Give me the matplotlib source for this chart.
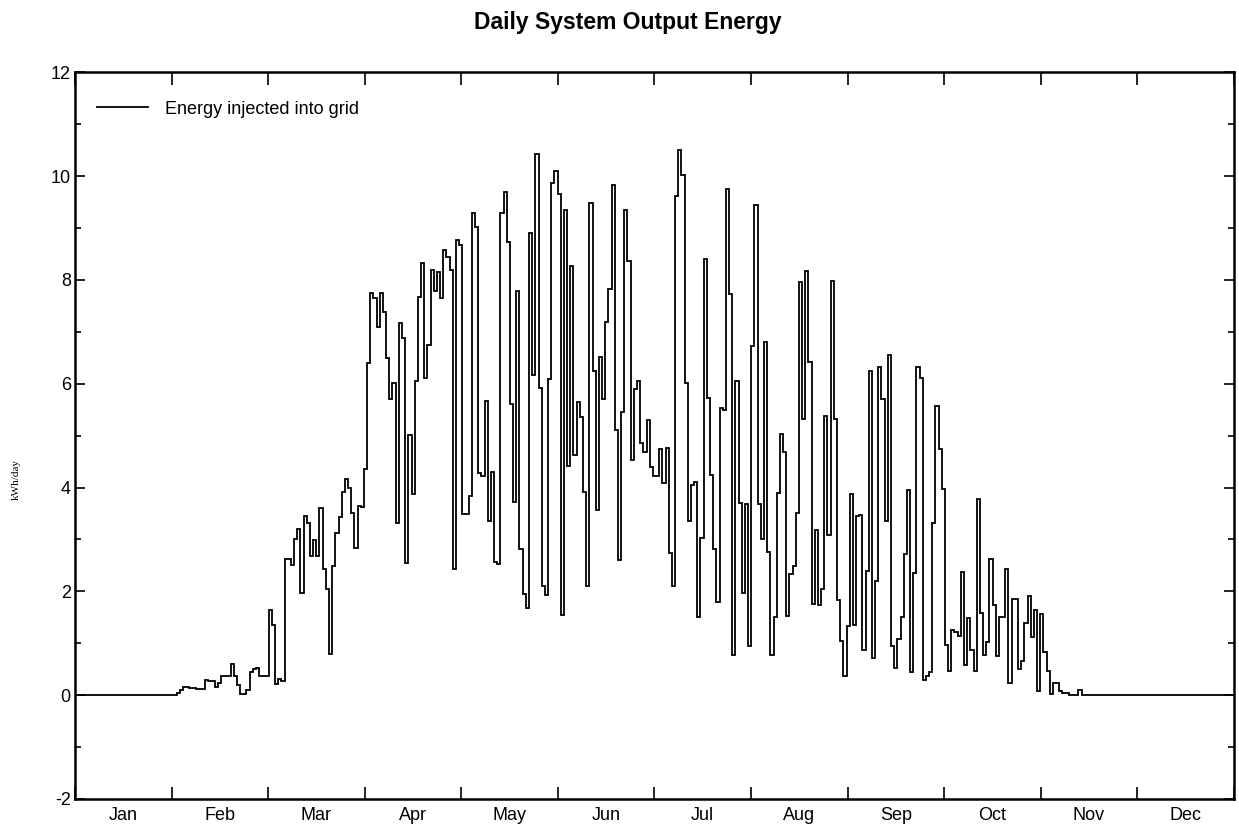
import matplotlib
matplotlib.use('Agg')
import matplotlib.pyplot as plt
from matplotlib.ticker import FixedLocator, FixedFormatter, NullFormatter, MultipleLocator
import numpy as np

plt.rcParams['font.family'] = ['Liberation Sans', 'DejaVu Sans']
plt.rcParams['axes.unicode_minus'] = False

# daily energy injected into grid, kWh/day
jan = [0, 0, 0, 0, 0, 0, 0, 0, 0, 0, 0, 0, 0, 0, 0, 0, 0, 0, 0, 0,
       0, 0, 0, 0, 0, 0, 0, 0, 0, 0, 0]
feb = [0, 0.05, 0.10, 0.16, 0.16, 0.14, 0.14, 0.12, 0.12, 0.11, 0.29, 0.27, 0.27, 0.15,
       0.23, 0.36, 0.36, 0.36, 0.60, 0.36, 0.20, 0.02, 0.02, 0.10, 0.45, 0.50, 0.53, 0.37]
mar = [0.37, 0.37, 1.65, 1.35, 0.22, 0.32, 0.28, 2.62, 2.62, 2.50, 3.00, 3.20, 1.96, 3.46,
       3.32, 2.68, 2.98, 2.68, 3.60, 2.44, 2.04, 0.80, 2.48, 3.13, 3.44, 3.91, 4.17, 4.00,
       3.51, 2.84, 3.64]
apr = [3.63, 4.35, 6.39, 7.75, 7.65, 7.10, 7.75, 7.38, 6.50, 5.71, 6.02, 3.32, 7.17, 6.88,
       2.54, 5.02, 3.87, 6.05, 7.68, 8.33, 6.11, 6.75, 8.20, 7.79, 8.15, 7.65, 8.57, 8.45,
       8.20, 2.43]
may = [8.77, 8.67, 3.49, 3.49, 3.83, 9.28, 9.02, 4.28, 4.22, 5.67, 3.36, 4.30, 2.57, 2.53,
       9.28, 9.69, 8.74, 5.60, 3.73, 7.79, 2.81, 1.95, 1.67, 8.91, 6.16, 10.43, 5.91, 2.11,
       1.93, 6.10, 9.87]
jun = [10.09, 9.66, 1.55, 9.35, 4.41, 8.26, 4.62, 5.64, 5.36, 3.92, 2.10, 9.48, 6.25, 3.57,
       6.52, 5.70, 7.18, 7.82, 9.83, 5.10, 2.60, 5.45, 9.35, 8.36, 4.54, 5.89, 6.05, 4.85,
       4.68, 5.30]
jul = [4.39, 4.22, 4.22, 4.75, 4.08, 4.77, 2.74, 2.10, 9.62, 10.50, 10.03, 6.02, 3.36, 4.04,
       4.10, 1.51, 3.02, 8.40, 5.72, 4.25, 2.81, 1.79, 5.53, 5.50, 9.76, 7.72, 0.77, 6.05,
       3.71, 1.96, 3.69]
aug = [0.94, 6.73, 9.45, 3.69, 3.01, 6.80, 2.75, 0.77, 1.51, 3.89, 5.03, 4.68, 1.53, 2.33,
       2.48, 3.50, 7.96, 5.32, 8.17, 6.42, 1.75, 3.19, 1.74, 2.04, 5.38, 3.08, 7.97, 5.32,
       1.83, 1.05, 0.36]
sep = [1.33, 3.87, 1.35, 3.46, 3.48, 0.87, 2.40, 6.25, 0.72, 2.20, 6.32, 5.71, 3.35, 6.56,
       0.94, 0.53, 1.08, 1.51, 2.71, 3.95, 0.45, 2.35, 6.32, 6.11, 0.30, 0.36, 0.44, 3.32,
       5.57, 4.75]
oct_ = [3.98, 0.96, 0.47, 1.25, 1.22, 1.14, 2.38, 0.58, 1.49, 0.87, 0.47, 3.77, 1.59, 0.77,
        1.03, 2.62, 1.73, 0.75, 1.51, 1.51, 2.44, 0.23, 1.86, 1.86, 0.50, 0.66, 1.39, 1.92,
        1.13, 1.64, 0.08]
nov = [1.56, 0.83, 0.46, 0.02, 0.23, 0.23, 0.08, 0.05, 0.05, 0.01, 0.01, 0.01, 0.10, 0,
       0, 0, 0, 0, 0, 0, 0, 0, 0, 0, 0, 0, 0, 0, 0, 0]
dec = [0, 0, 0, 0, 0, 0, 0, 0, 0, 0, 0, 0, 0, 0, 0, 0, 0, 0, 0, 0,
       0, 0, 0, 0, 0, 0, 0, 0, 0, 0, 0]

month_labels = ['Jan', 'Feb', 'Mar', 'Apr', 'May', 'Jun',
                'Jul', 'Aug', 'Sep', 'Oct', 'Nov', 'Dec']

energy = np.array(jan + feb + mar + apr + may + jun + jul + aug + sep + oct_ + nov + dec)
edges = np.arange(len(energy) + 1) * 12 / len(energy)

fig = plt.figure(figsize=(12.39, 8.32), dpi=100)
ax = fig.add_axes([0.0605, 0.0397, 0.9354, 0.8734])

ax.stairs(energy, edges, color='black', linewidth=1.3, baseline=None,
          label='Energy injected into grid')

ax.set_xlim(0, 12)
ax.set_ylim(-2, 12)

# month boundaries as ticks, labels centred in each month
ax.xaxis.set_major_locator(FixedLocator(np.arange(0, 13)))
ax.xaxis.set_major_formatter(NullFormatter())
ax.xaxis.set_minor_locator(FixedLocator(np.arange(12) + 0.5))
ax.xaxis.set_minor_formatter(FixedFormatter(month_labels))
ax.tick_params(axis='x', which='major', direction='in', length=9, width=1.2,
               top=True, bottom=True)
ax.tick_params(axis='x', which='minor', length=0, pad=6, labelsize=13)

ax.yaxis.set_major_locator(MultipleLocator(2))
ax.yaxis.set_minor_locator(MultipleLocator(1))
ax.tick_params(axis='y', which='major', direction='in', length=7, width=1.2,
               left=True, right=True, labelsize=13, pad=3)
ax.tick_params(axis='y', which='minor', direction='in', length=4, width=1.2,
               left=True, right=True)

for s in ax.spines.values():
    s.set_linewidth(1.8)

ax.set_ylabel('kWh/day', family=['Liberation Serif', 'DejaVu Serif'], fontsize=8)
ax.yaxis.set_label_coords(-0.047, 0.44)

ax.legend(loc='upper left', bbox_to_anchor=(0.019, 0.961), frameon=False,
          fontsize=13, handlelength=2.8, handletextpad=0.95, borderpad=0,
          borderaxespad=0)

fig.text(0.507, 0.973, 'Daily System Output Energy', ha='center', va='center',
         fontsize=16.5, fontweight='bold')

fig.savefig('out.png', dpi=100)
